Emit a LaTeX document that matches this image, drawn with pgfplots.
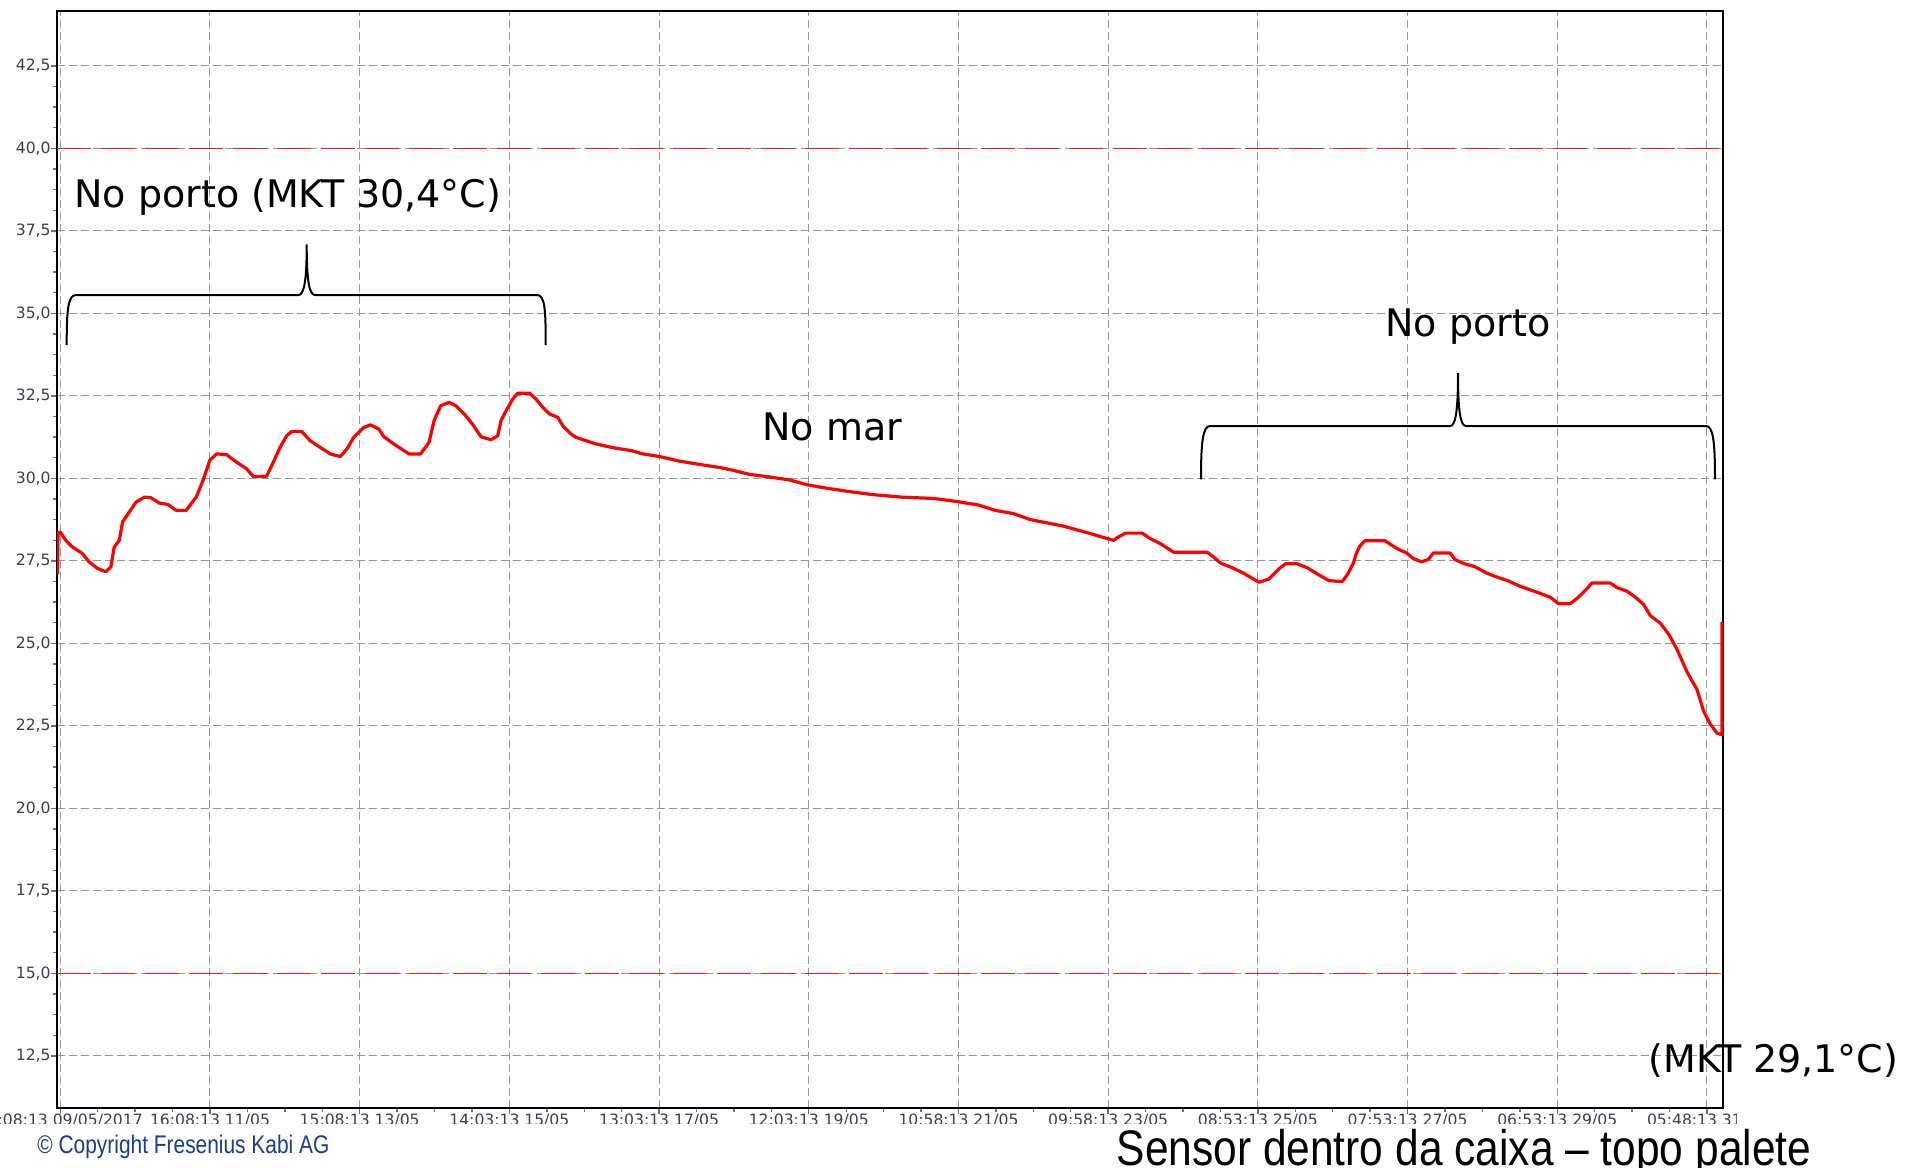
\documentclass[border=0pt]{standalone}
\usepackage{fontspec}
\setmainfont{DejaVu Sans}
\newfontfamily\narrowfont{Liberation Sans}
\usepackage{graphicx}
\usepackage{pgfplots}
\pgfplotsset{compat=1.18}
\definecolor{gridgray}{RGB}{150,150,150}
\definecolor{ticklab}{RGB}{60,60,85}
\definecolor{tickgray}{RGB}{110,110,110}
\definecolor{copyblue}{RGB}{30,60,140}
\definecolor{limitred}{RGB}{235,30,30}
\begin{document}
\begin{tikzpicture}
\path[use as bounding box] (0,0) rectangle (954pt,-584pt);
\begin{axis}[
  at={(28.5pt,-554pt)}, anchor=south west,
  width=833pt, height=548.65pt, scale only axis,
  xmin=-0.022, xmax=11.107, ymin=10.92, ymax=44.17,
  xtick={0,1,2,3,4,5,6,7,8,9,10,11},
  xticklabels={17:08:13 09/05/2017, 16:08:13 11/05, 15:08:13 13/05, 14:03:13 15/05, 13:03:13 17/05, 12:03:13 19/05, 10:58:13 21/05, 09:58:13 23/05, 08:53:13 25/05, 07:53:13 27/05, 06:53:13 29/05, 05:48:13 31/05},
  ytick={12.5,15,17.5,20,22.5,25,27.5,30,32.5,35,37.5,40,42.5},
  minor x tick num=3, minor y tick num=3,
  tick align=outside, tick pos=left,
  major tick length=3pt, minor tick length=1.8pt,
  every tick/.append style={tickgray, line width=0.7pt},
  grid=major,
  major grid style={gridgray, line width=0.5pt, dash pattern=on 4pt off 2pt},
  axis line style={black, line width=1.2pt},
  /pgf/number format/fixed, /pgf/number format/fixed zerofill,
  /pgf/number format/precision=1, /pgf/number format/use comma,
  /pgf/number format/assume math mode=true,
  yticklabel style={font=\fontsize{7.8}{8}\selectfont, text=ticklab, inner sep=0pt},
  xticklabel style={font=\fontsize{7.8}{8}\selectfont, text=ticklab, inner sep=0pt},
]
\addplot[limitred, line width=0.8pt, dash pattern=on 17pt off 5pt] coordinates {(-0.022,40) (11.107,40)};
\addplot[limitred, line width=0.8pt, dash pattern=on 17pt off 5pt] coordinates {(-0.022,15) (11.107,15)};
\addplot[red, line width=1.6pt, line join=round] coordinates {
(-0.02,27.1) (-0.015,28.36) (0.002,28.36) (0.036,28.12) (0.081,27.92) (0.148,27.72)
(0.192,27.47) (0.248,27.27) (0.304,27.17) (0.338,27.32) (0.360,27.92) (0.394,28.12)
(0.416,28.68) (0.461,28.98) (0.506,29.28) (0.562,29.43) (0.606,29.41) (0.662,29.25)
(0.718,29.21) (0.774,29.03) (0.841,29.03) (0.908,29.43) (0.953,29.93) (0.998,30.54)
(1.043,30.74) (1.110,30.72) (1.177,30.49) (1.244,30.29) (1.289,30.06) (1.378,30.06)
(1.423,30.49) (1.468,30.94) (1.512,31.29) (1.546,31.42) (1.613,31.42) (1.669,31.14)
(1.736,30.94) (1.803,30.74) (1.870,30.66) (1.915,30.89) (1.960,31.24) (2.027,31.54)
(2.072,31.62) (2.128,31.49) (2.161,31.26) (2.228,31.04) (2.295,30.84) (2.329,30.74)
(2.407,30.74) (2.463,31.09) (2.497,31.75) (2.541,32.20) (2.597,32.30) (2.642,32.20)
(2.698,31.95) (2.754,31.64) (2.810,31.26) (2.877,31.17) (2.922,31.29) (2.944,31.75)
(2.978,32.05) (3.022,32.40) (3.056,32.58) (3.134,32.58) (3.178,32.40) (3.223,32.15)
(3.268,31.95) (3.323,31.85) (3.357,31.59) (3.412,31.34) (3.446,31.24) (3.524,31.12)
(3.580,31.04) (3.702,30.92) (3.814,30.84) (3.892,30.74) (4.003,30.66) (4.137,30.52)
(4.271,30.42) (4.416,30.32) (4.516,30.22) (4.605,30.12) (4.739,30.04) (4.873,29.95)
(4.984,29.81) (5.107,29.71) (5.252,29.61) (5.420,29.51) (5.620,29.43) (5.833,29.39)
(6.000,29.29) (6.134,29.19) (6.245,29.03) (6.368,28.93) (6.479,28.75) (6.591,28.65)
(6.702,28.55) (6.780,28.45) (6.870,28.34) (6.959,28.22) (7.037,28.12) (7.059,28.20)
(7.115,28.34) (7.226,28.34) (7.282,28.17) (7.349,28.02) (7.438,27.76) (7.661,27.76)
(7.706,27.61) (7.751,27.43) (7.829,27.29) (7.906,27.12) (7.962,26.97) (8.007,26.85)
(8.074,26.95) (8.141,27.26) (8.185,27.41) (8.263,27.41) (8.330,27.29) (8.397,27.10)
(8.475,26.90) (8.564,26.87) (8.600,27.10) (8.637,27.42) (8.659,27.74) (8.681,27.95)
(8.715,28.11) (8.848,28.11) (8.882,28.01) (8.938,27.85) (8.993,27.74) (9.038,27.57)
(9.094,27.47) (9.138,27.54) (9.172,27.74) (9.283,27.74) (9.317,27.54) (9.373,27.42)
(9.450,27.32) (9.528,27.13) (9.595,27.01) (9.673,26.89) (9.751,26.73) (9.863,26.55)
(9.952,26.40) (10.008,26.20) (10.086,26.20) (10.142,26.40) (10.197,26.65) (10.231,26.83)
(10.353,26.83) (10.398,26.69) (10.465,26.58) (10.521,26.40) (10.576,26.18) (10.621,25.84)
(10.688,25.61) (10.744,25.28) (10.799,24.82) (10.866,24.14) (10.933,23.60) (10.978,22.94)
(11.022,22.55) (11.067,22.28) (11.100,22.23) (11.100,25.64)
};
\end{axis}
\begin{scope}[x=0.5pt,y=-0.5pt]
  \fill[white] (0,1124) rectangle (1908,1168);
  \fill[white] (1737,1104) rectangle (1908,1168);
  % left brace
  \draw[black, line width=1pt]
    (66.7,345) .. controls (66.7,310) and (68,295) .. (76,295) -- (298.3,295)
    .. controls (304,295) and (306.7,282) .. (306.7,244.3)
    .. controls (306.7,282) and (309.4,295) .. (315.1,295) -- (537,295)
    .. controls (545,295) and (545.7,310) .. (545.7,345);
  % right brace
  \draw[black, line width=1pt]
    (1201,479.4) .. controls (1201,444) and (1202.5,426) .. (1210,426) -- (1450,426)
    .. controls (1455.5,426) and (1458,412) .. (1458,373)
    .. controls (1458,412) and (1460.5,426) .. (1466,426) -- (1706,426)
    .. controls (1713.5,426) and (1715,444) .. (1715,479.4);
  \node[anchor=base west, inner sep=0pt, font=\fontsize{19}{22}\selectfont] at (74,207) {No porto (MKT 30,4°C)};
  \node[anchor=base west, inner sep=0pt, font=\fontsize{19}{22}\selectfont] at (762,440) {No mar};
  \node[anchor=base west, inner sep=0pt, font=\fontsize{19}{22}\selectfont] at (1385,336) {No porto};
  \node[anchor=base west, inner sep=0pt, font=\fontsize{19}{22}\selectfont] at (1648,1072) {(MKT 29,1°C)};
  \node[anchor=base, inner sep=0pt] at (1464,1165) {\scalebox{0.85}[1]{\narrowfont\fontsize{25}{29}\selectfont Sensor dentro da caixa – topo palete}};
  \node[anchor=base west, inner sep=0pt, text=copyblue] at (37,1153) {\scalebox{0.82}[1]{\narrowfont\fontsize{12.75}{14}\selectfont © Copyright Fresenius Kabi AG}};
\end{scope}
\end{tikzpicture}
\end{document}
